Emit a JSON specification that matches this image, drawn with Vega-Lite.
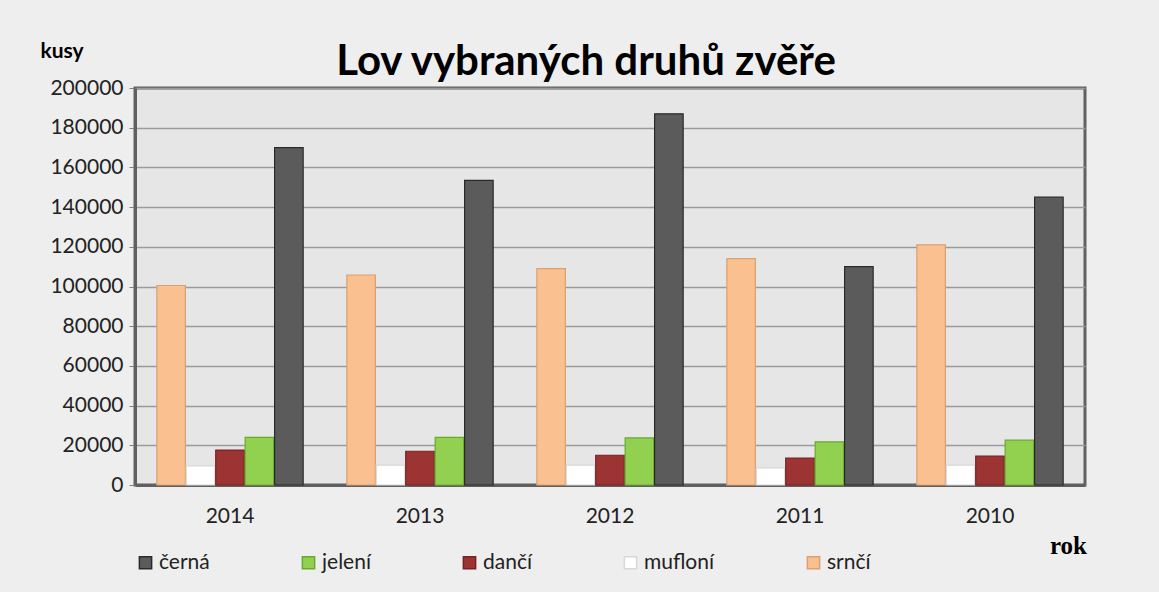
{
  "$schema": "https://vega.github.io/schema/vega-lite/v6.json",
  "width": 950,
  "height": 397,
  "autosize": {"type": "none"},
  "padding": {"left": 135, "top": 88, "right": 74, "bottom": 107},
  "background": "#eeeeee",
  "title": {
    "text": "Lov vybraných druhů zvěře",
    "anchor": "middle",
    "dx": -24,
    "offset": -77,
    "baseline": "alphabetic",
    "font": "Lato",
    "fontSize": 42,
    "fontWeight": "bold",
    "color": "#000000"
  },
  "config": {
    "view": {"fill": "#e6e6e6", "stroke": "#606060", "strokeWidth": 3},
    "font": "Lato"
  },
  "data": {
    "values": [
      {"rok": "2014", "druh": "srnčí", "kusy": 100500},
      {"rok": "2014", "druh": "mufloní", "kusy": 9600},
      {"rok": "2014", "druh": "dančí", "kusy": 17600},
      {"rok": "2014", "druh": "jelení", "kusy": 24000},
      {"rok": "2014", "druh": "černá", "kusy": 170000},
      {"rok": "2013", "druh": "srnčí", "kusy": 105800},
      {"rok": "2013", "druh": "mufloní", "kusy": 10000},
      {"rok": "2013", "druh": "dančí", "kusy": 17000},
      {"rok": "2013", "druh": "jelení", "kusy": 24000},
      {"rok": "2013", "druh": "černá", "kusy": 153500},
      {"rok": "2012", "druh": "srnčí", "kusy": 109000},
      {"rok": "2012", "druh": "mufloní", "kusy": 10000},
      {"rok": "2012", "druh": "dančí", "kusy": 15000},
      {"rok": "2012", "druh": "jelení", "kusy": 23700},
      {"rok": "2012", "druh": "černá", "kusy": 187000},
      {"rok": "2011", "druh": "srnčí", "kusy": 114000},
      {"rok": "2011", "druh": "mufloní", "kusy": 8600},
      {"rok": "2011", "druh": "dančí", "kusy": 13600},
      {"rok": "2011", "druh": "jelení", "kusy": 21700},
      {"rok": "2011", "druh": "černá", "kusy": 110000},
      {"rok": "2010", "druh": "srnčí", "kusy": 121000},
      {"rok": "2010", "druh": "mufloní", "kusy": 10000},
      {"rok": "2010", "druh": "dančí", "kusy": 14600},
      {"rok": "2010", "druh": "jelení", "kusy": 22600},
      {"rok": "2010", "druh": "černá", "kusy": 145000}
    ]
  },
  "mark": {"type": "bar", "strokeWidth": 1.2},
  "encoding": {
    "x": {
      "field": "rok",
      "type": "nominal",
      "sort": ["2014", "2013", "2012", "2011", "2010"],
      "scale": {"paddingInner": 0.23, "paddingOuter": 0.115},
      "axis": {
        "title": "rok",
        "titleFont": "Liberation Serif",
        "titleFontSize": 25,
        "titleFontWeight": "bold",
        "titleColor": "#000000",
        "titleAnchor": "start",
        "titleAlign": "center",
        "titleBaseline": "alphabetic",
        "titleX": 933,
        "titleY": 68,
        "labelAngle": 0,
        "labelFontSize": 21,
        "labelColor": "#222222",
        "labelPadding": 20,
        "ticks": false,
        "domain": true,
        "domainColor": "#606060",
        "domainWidth": 3
      }
    },
    "xOffset": {
      "field": "druh",
      "type": "nominal",
      "sort": ["srnčí", "mufloní", "dančí", "jelení", "černá"],
      "scale": {"paddingInner": 0.03}
    },
    "y": {
      "field": "kusy",
      "type": "quantitative",
      "scale": {"domain": [0, 200000]},
      "axis": {
        "title": "kusy",
        "titleAngle": 0,
        "titleFont": "Lato",
        "titleFontSize": 21,
        "titleFontWeight": "bold",
        "titleColor": "#000000",
        "titleAlign": "left",
        "titleBaseline": "alphabetic",
        "titleX": -95,
        "titleY": -31,
        "values": [0, 20000, 40000, 60000, 80000, 100000, 120000, 140000, 160000, 180000, 200000],
        "format": "d",
        "labelFontSize": 21,
        "labelColor": "#222222",
        "labelPadding": 6,
        "tickSize": 6,
        "tickColor": "#808080",
        "gridColor": "#9a9a9a",
        "gridWidth": 1.5,
        "domainColor": "#606060",
        "domainWidth": 3
      }
    },
    "fill": {
      "field": "druh",
      "type": "nominal",
      "scale": {
        "domain": ["černá", "jelení", "dančí", "mufloní", "srnčí"],
        "range": ["#5b5b5b", "#92d050", "#9c3434", "#ffffff", "#fac090"]
      },
      "legend": {
        "title": null,
        "orient": "none",
        "legendX": 0,
        "legendY": 464,
        "direction": "horizontal",
        "columns": 5,
        "columnPadding": 88,
        "symbolType": "square",
        "symbolSize": 150,
        "labelFontSize": 21,
        "labelColor": "#222222",
        "labelOffset": 3
      }
    },
    "stroke": {
      "field": "druh",
      "type": "nominal",
      "scale": {
        "domain": ["černá", "jelení", "dančí", "mufloní", "srnčí"],
        "range": ["#2a2a2a", "#6aa82e", "#772222", "#d8d8d8", "#d9a070"]
      },
      "legend": null
    }
  }
}
